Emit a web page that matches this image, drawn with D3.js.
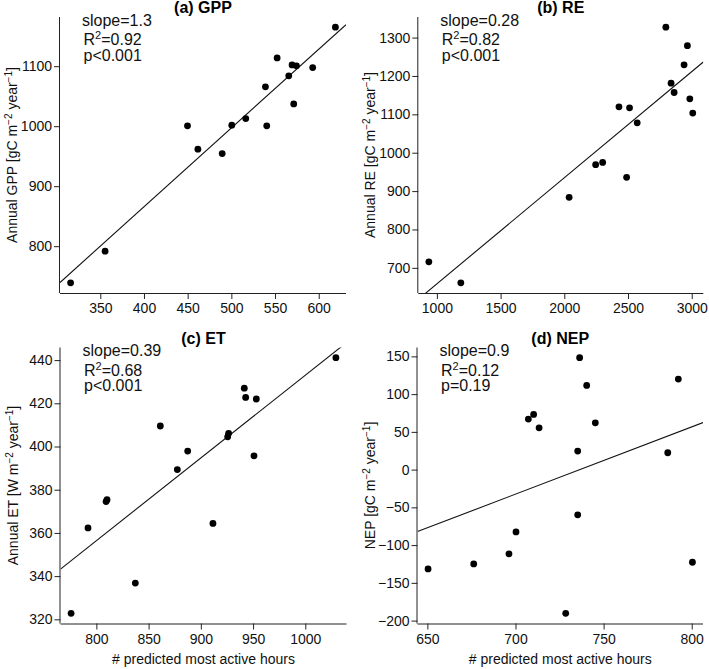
<!DOCTYPE html>
<html>
<head>
<meta charset="utf-8">
<script src="https://cdn.jsdelivr.net/npm/d3@7"></script>
<style>
  html, body { margin: 0; padding: 0; background: #fff; }
  svg { display: block; font-family: "Liberation Sans", Arial, Helvetica, sans-serif; }
</style>
</head>
<body>
<svg id="chart" width="709" height="669"></svg>
<script>
// ---------------- data ----------------
const titles = ["(a) GPP", "(b) RE", "(c) ET", "(d) NEP"];

const gppX = [316, 355.5, 449.8, 461.7, 489.5, 500.5, 516.5, 539.0, 540.5, 552.4, 565.7, 569.5, 571.4, 574.5, 593.1, 619.1];
const gppY = [739, 791.7, 1000.6, 961.7, 954.4, 1001.7, 1012.8, 1065.6, 1000.6, 1113.9, 1083.9, 1102.2, 1037.2, 1100.6, 1097.8, 1165.0];

const reX = [937, 1188, 2038, 2246, 2301, 2429, 2489, 2512, 2572, 2797, 2838, 2862, 2940, 2966, 2985, 3008];
const reY = [715.7, 661.1, 883.7, 968.8, 974.8, 1119.7, 935.8, 1117, 1078, 1327, 1181.3, 1156.9, 1228.9, 1279, 1140.5, 1103.3];

const etX = [775.8, 792.0, 809.3, 810.2, 837.3, 861.2, 877.5, 887.4, 911.6, 925.7, 926.6, 941.6, 942.9, 950.9, 953.1, 1029.3];
const etY = [322.8, 362.3, 374.5, 375.4, 336.8, 409.5, 389.3, 397.9, 364.4, 404.5, 406.1, 427.0, 422.7, 395.7, 422.0, 441.1];

const nepX = [650.4, 676.3, 696.3, 700.3, 707.3, 710.3, 713.4, 728.5, 735.3, 735.3, 736.4, 740.4, 745.3, 786.4, 792.4, 800.4];
const nepY = [-131.5, -124.9, -111.6, -82.5, 66.9, 73.1, 55.4, -190.3, 24.5, -59.9, 148.2, 111.5, 62.0, 22.3, 119.9, -122.7];

const xTicksGPP = [350, 400, 450, 500, 550, 600];
const yTicksGPP = [800, 900, 1000, 1100];
const xTicksRE = [1000, 1500, 2000, 2500, 3000];
const yTicksRE = [700, 800, 900, 1000, 1100, 1200, 1300];
const xTicksET = [800, 850, 900, 950, 1000];
const yTicksET = [320, 340, 360, 380, 400, 420, 440];
const xTicksNEP = [650, 700, 750, 800];
const yTicksNEP = [-200, -150, -100, -50, 0, 50, 100, 150];

const fitSlope = [1.313, 0.2765, 0.383, 0.8914];
const fitIntercept = [340.5, 381.8, 50.0, -656.5];

const slopeLabels = ["slope=1.3", "slope=0.28", "slope=0.39", "slope=0.9"];
const r2Labels = ["0.92", "0.82", "0.68", "0.12"];
const pLabels = ["p<0.001", "p<0.001", "p<0.001", "p=0.19"];

const yTitleParts = [
  ["Annual GPP [gC m", "−2", " year", "−1", "]"],
  ["Annual RE [gC m", "−2", " year", "−1", "]"],
  ["Annual ET [W m", "−2", " year", "−1", "]"],
  ["NEP [gC m", "−2", " year", "−1", "]"]
];
const xTitle = "# predicted most active hours";

// ---------------- layout ----------------
const boxes = [
  { left: 60, top: 17, w: 286, h: 276 },
  { left: 418.3, top: 17, w: 285, h: 276 },
  { left: 60.5, top: 347.5, w: 286, h: 276 },
  { left: 417.5, top: 347.5, w: 285.5, h: 276 }
];
const xsAll = [gppX, reX, etX, nepX];
const ysAll = [gppY, reY, etY, nepY];
const xTicksAll = [xTicksGPP, xTicksRE, xTicksET, xTicksNEP];
const yTicksAll = [yTicksGPP, yTicksRE, yTicksET, yTicksNEP];

const svg = d3.select("#chart");
const fmt = v => (v < 0 ? "−" + Math.abs(v) : String(v));

function padExtent(arr) {
  const [lo, hi] = d3.extent(arr);
  const p = (hi - lo) * 0.04;
  return [lo - p, hi + p];
}

boxes.forEach((b, i) => {
  const xs = xsAll[i], ys = ysAll[i];
  const x = d3.scaleLinear().domain(padExtent(xs)).range([b.left, b.left + b.w]);
  const y = d3.scaleLinear().domain(padExtent(ys)).range([b.top + b.h, b.top]);
  const g = svg.append("g");

  // clip
  const clipId = "clip" + i;
  svg.append("clipPath").attr("id", clipId).append("rect")
    .attr("x", b.left).attr("y", b.top).attr("width", b.w).attr("height", b.h);

  // axes
  const xAxis = d3.axisBottom(x).tickValues(xTicksAll[i]).tickFormat(fmt).tickSize(6).tickPadding(4.5);
  const yAxis = d3.axisLeft(y).tickValues(yTicksAll[i]).tickFormat(fmt).tickSize(6).tickPadding(2);
  const gx = g.append("g").attr("transform", `translate(0,${b.top + b.h})`).call(xAxis);
  const gy = g.append("g").attr("transform", `translate(${b.left},0)`).call(yAxis);
  [gx, gy].forEach(a => {
    a.select(".domain").attr("stroke", "#222").attr("stroke-width", 1);
    a.selectAll(".tick line").attr("stroke", "#222").attr("stroke-width", 1);
    a.selectAll(".tick text").attr("fill", "#111").attr("font-size", 14)
      .attr("font-family", "'Liberation Sans', Arial, sans-serif");
  });
  gx.select(".domain").attr("d", `M${b.left},0.5H${b.left + b.w}`);
  gy.select(".domain").attr("d", `M-0.5,${b.top}V${b.top + b.h}`);

  // regression line
  const [x0, x1] = x.domain();
  g.append("line")
    .attr("clip-path", `url(#${clipId})`)
    .attr("x1", x(x0)).attr("y1", y(fitIntercept[i] + fitSlope[i] * x0))
    .attr("x2", x(x1)).attr("y2", y(fitIntercept[i] + fitSlope[i] * x1))
    .attr("stroke", "#111").attr("stroke-width", 1.1);

  // points
  g.selectAll("circle.pt").data(xs.map((v, k) => [v, ys[k]])).enter()
    .append("circle").attr("class", "pt")
    .attr("cx", d => x(d[0])).attr("cy", d => y(d[1])).attr("r", 3.4)
    .attr("fill", "#000");

  // title
  g.append("text").attr("x", b.left + b.w / 2).attr("y", b.top - 4)
    .attr("text-anchor", "middle").attr("font-weight", "bold").attr("font-size", 16)
    .attr("fill", "#000").text(titles[i]);

  // annotation
  const ax = b.left + 22;
  g.append("text").attr("x", ax).attr("y", b.top + 8.8).attr("font-size", 16).attr("fill", "#111").text(slopeLabels[i]);
  const r2 = g.append("text").attr("x", ax + 1.5).attr("y", b.top + 28.4).attr("font-size", 16).attr("fill", "#111");
  r2.append("tspan").text("R");
  r2.append("tspan").attr("font-size", 11).attr("dy", -6).text("2");
  r2.append("tspan").attr("dy", 6).text("=" + r2Labels[i]);
  g.append("text").attr("x", ax + 1.5).attr("y", b.top + 43.8).attr("font-size", 16).attr("fill", "#111").text(pLabels[i]);

  // y title
  const yt = g.append("text")
    .attr("transform", `translate(${b.left - 43},${b.top + b.h / 2}) rotate(-90)`)
    .attr("text-anchor", "middle").attr("font-size", 14).attr("fill", "#111");
  const parts = yTitleParts[i];
  yt.append("tspan").text(parts[0]);
  yt.append("tspan").attr("font-size", 10).attr("dy", -5).text(parts[1]);
  yt.append("tspan").attr("dy", 5).text(parts[2]);
  yt.append("tspan").attr("font-size", 10).attr("dy", -5).text(parts[3]);
  yt.append("tspan").attr("dy", 5).text(parts[4]);

  // x title (bottom row only)
  if (i >= 2) {
    g.append("text").attr("x", b.left + b.w / 2).attr("y", 664)
      .attr("text-anchor", "middle").attr("font-size", 14).attr("fill", "#111").text(xTitle);
  }
});
</script>
</body>
</html>
